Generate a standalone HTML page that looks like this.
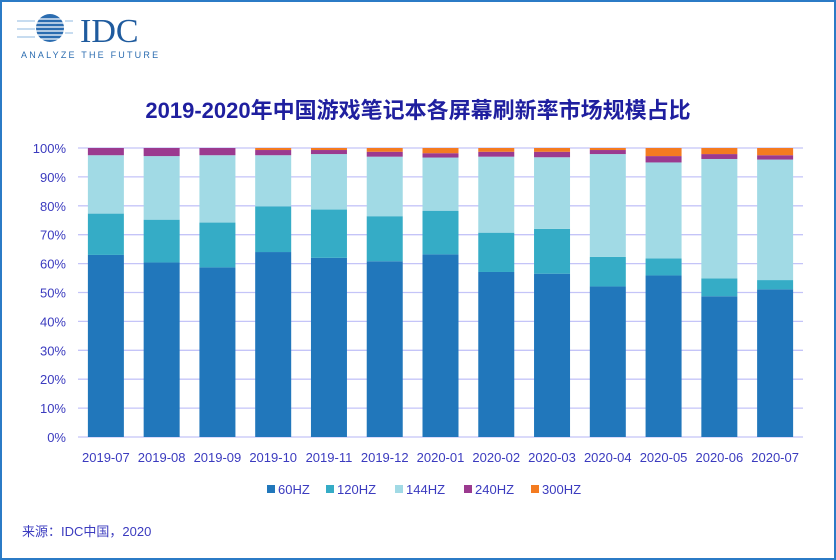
<!DOCTYPE html>
<html><head><meta charset="utf-8"><style>
body{margin:0;width:836px;height:560px;background:#fff;overflow:hidden;font-family:"Liberation Sans","Noto Sans CJK SC",sans-serif}
#frame{position:absolute;left:0;top:0;width:832px;height:556px;border:2px solid #2b7bc6}
svg{position:absolute;left:0;top:0}
</style></head><body>
<div id="frame"></div>
<svg width="836" height="560" id="chart">
 <g>
  <circle cx="50" cy="28" r="14" fill="#2b6cb0"/>
  <g stroke="#fff" stroke-width="1.2">
   <line x1="30" y1="19" x2="72" y2="19"/><line x1="30" y1="23" x2="72" y2="23"/><line x1="30" y1="27" x2="72" y2="27"/><line x1="30" y1="31" x2="72" y2="31"/><line x1="30" y1="35" x2="72" y2="35"/><line x1="30" y1="39" x2="72" y2="39"/>
  </g>
  <g stroke="#8fb8e0" stroke-width="1"><line x1="17" y1="21" x2="35" y2="21"/><line x1="65" y1="21" x2="73" y2="21"/><line x1="17" y1="29" x2="35" y2="29"/><line x1="65" y1="33" x2="73" y2="33"/><line x1="17" y1="37" x2="35" y2="37"/></g>
  <text x="80" y="42" font-family="Liberation Serif,serif" font-size="34" fill="#1f5b9e">IDC</text>
  <text x="21" y="58" font-size="9" letter-spacing="2.2" fill="#2b6cb0">ANALYZE THE FUTURE</text>
 </g>
 <text x="418" y="118" text-anchor="middle" font-size="22" font-weight="bold" fill="#1f1f9f">2019-2020年中国游戏笔记本各屏幕刷新率市场规模占比</text>
 <g id="grid"></g><g id="bars"></g><g id="xlab"></g><g id="legend"></g>
 <text x="22" y="536" font-size="13" fill="#3b3bbf">来源：IDC中国，2020</text>
</svg>
<script>
const categories=["2019-07","2019-08","2019-09","2019-10","2019-11","2019-12","2020-01","2020-02","2020-03","2020-04","2020-05","2020-06","2020-07"];
const s60=[63,60.4,58.7,64,62,60.8,63.2,57.1,56.5,52.1,55.9,48.7,51.1];
const s120=[14.3,14.8,15.5,15.8,16.7,15.6,15.1,13.6,15.5,10.2,5.9,6.2,3.2];
const s144=[20.2,22,23.3,17.7,19.2,20.6,18.4,26.3,24.8,35.6,33.2,41.3,41.7];
const s240=[2.5,2.8,2.5,1.8,1.4,1.7,1.5,1.7,1.9,1.4,2.2,1.7,1.5];
const s300=[0,0,0,0.7,0.7,1.3,1.8,1.3,1.3,0.7,2.8,2.1,2.5];
const seriesNames=["60HZ","120HZ","144HZ","240HZ","300HZ"];
const colors=["#2177bb","#35acc6","#a1dae5","#9b3a8f","#f47b20"];
const yTicks=[0,10,20,30,40,50,60,70,80,90,100];
const NS="http://www.w3.org/2000/svg";
const x0=78,x1=803,yTop=148,yBot=437;
const step=(x1-x0)/categories.length,bw=36;
const y=v=>yBot-(v/100)*(yBot-yTop);
const xc=i=>x0+step*(i+0.5);
function mk(tag,attrs,parent){const e=document.createElementNS(NS,tag);for(const k in attrs)e.setAttribute(k,attrs[k]);parent.appendChild(e);return e;}
const grid=document.getElementById('grid');
yTicks.forEach(t=>{
 const l=mk('line',{x1:x0,x2:x1,y1:y(t),y2:y(t),stroke:'#c4c4f8','stroke-width':1.3},grid);
 
 
 const tx=mk('text',{x:66,y:y(t)+5,'text-anchor':'end','font-size':13,fill:'#3b3bbf'},grid);
 tx.textContent=t+'%';
 
 
});
const series=[s60,s120,s144,s240,s300];
const bars=document.getElementById('bars'),xl=document.getElementById('xlab');
categories.forEach((c,i)=>{
 let cum=0;
 series.forEach((s,k)=>{
  const v=s[i];if(v<=0){return;}
  const r=mk('rect',{x:xc(i)-bw/2,y:y(cum+v),width:bw,height:y(cum)-y(cum+v),fill:colors[k]},bars);
  
  
  cum+=v;
 });
 const t=mk('text',{x:xc(i),y:462,'text-anchor':'middle','font-size':13,fill:'#3b3bbf'},xl);
 t.textContent=c;
 
 
});
const lg=document.getElementById('legend');
const lx=[267,326,395,464,531];
seriesNames.forEach((n,k)=>{
 const g=mk('g',{},lg);
 
 
 mk('rect',{x:lx[k],y:485,width:8,height:8,fill:colors[k]},g);
 const t=mk('text',{x:lx[k]+11,y:494,'font-size':13,fill:'#3b3bbf'},g);t.textContent=n;
});
</script>
</body></html>
